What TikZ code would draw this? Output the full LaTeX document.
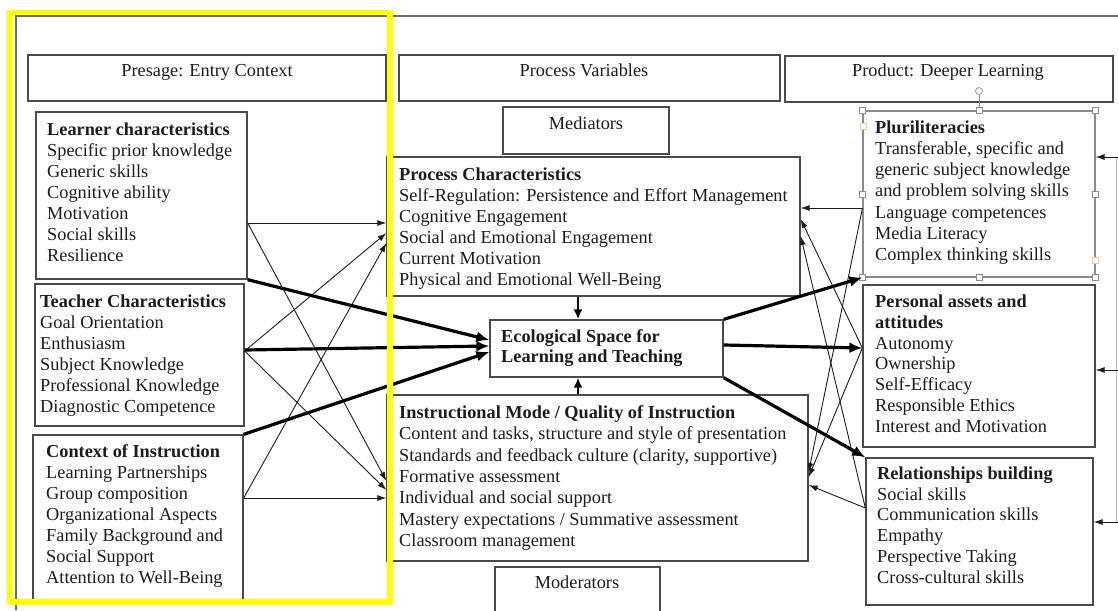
\documentclass[tikz,border=0pt]{standalone}
\usepackage{fontspec}
\setmainfont{Liberation Serif}
\usetikzlibrary{arrows.meta,fit}
\definecolor{boxgray}{HTML}{4A4A4A}
\definecolor{txtblack}{HTML}{1C1C1C}
\definecolor{framegray}{HTML}{6E6E6E}
\definecolor{selgray}{HTML}{8C8C8C}
\definecolor{hiyellow}{HTML}{FFFF00}
\definecolor{handleorange}{HTML}{F6C89A}
\newcommand\fs{\rule{0pt}{15pt}}
\begin{document}
\begin{tikzpicture}[x=1pt,y=-1pt,
  box/.style={draw=boxgray, line width=1.3pt, inner sep=0pt},
  selbox/.style={draw=selgray, line width=1.1pt, inner sep=0pt},
  txt/.style={anchor=north west, inner sep=0pt, align=left, text=txtblack,
    font=\fontsize{18.3}{21}\selectfont},
  hdr/.style={anchor=base, inner sep=0pt, text=txtblack,
    font=\fontsize{18.3}{21}\selectfont},
  thin/.style={draw=txtblack, line width=0.9pt, -{Latex[length=9pt,width=6pt]}},
  thick/.style={draw=black, line width=3.2pt, -{Latex[length=13pt,width=11pt]}},
  mid/.style={draw=black, line width=2.4pt, -{Latex[length=10pt,width=9pt]}},
  handle/.style={draw=selgray, fill=white, line width=0.7pt, minimum size=6pt, inner sep=0pt},
]
\useasboundingbox (0,0) rectangle (1118,610);
\fill[white] (0,0) rectangle (1118,610);

% outer frame
\draw[framegray, line width=1.3pt] (16,610) -- (16,16) -- (1118,16);

% header boxes
\node[box, fit={(28,55) (386,101)}] (pres) {};
\node[box, fit={(399,55) (780,101)}] (pv) {};
\node[box, fit={(785,56) (1113,102)}] (prod) {};
\node[hdr] (prest) at (207,76) {Presage: Entry Context};
\node[hdr] (pvt) at (584,76) {Process Variables};
\node[hdr] (prodt) at (948,77) {Product: Deeper Learning};

% mediators / moderators
\node[box, fit={(503,107) (669,154)}] (med) {};
\node[hdr] (medt) at (586,129) {Mediators};
\node[box, fit={(495,567) (660,625)}] (mod) {};
\node[hdr] (modt) at (577,588) {Moderators};

% left column
\node[box, fit={(36,112) (247,279)}] (lc) {};
\node[txt] (lct) at (47,120) {\fs\textbf{Learner characteristics}\\Specific prior knowledge\\Generic skills\\Cognitive ability\\Motivation\\Social skills\\Resilience};
\node[box, fit={(35,284) (244,426)}] (tc) {};
\node[txt] (tct) at (40,292) {\fs\textbf{Teacher Characteristics}\\Goal Orientation\\Enthusiasm\\Subject Knowledge\\Professional Knowledge\\Diagnostic Competence};
\node[box, fit={(33,435) (243,603)}] (ci) {};
\node[txt] (cit) at (46,442) {\fs\textbf{Context of Instruction}\\Learning Partnerships\\Group composition\\Organizational Aspects\\Family Background and\\Social Support\\Attention to Well-Being};

% middle column
\node[box, fit={(387,157) (800,296)}] (pc) {};
\node[txt] (pct) at (399,165) {\fs\textbf{Process Characteristics}\\Self-Regulation: Persistence and Effort Management\\Cognitive Engagement\\Social and Emotional Engagement\\Current Motivation\\Physical and Emotional Well-Being};
\node[box, fit={(490,320) (723,377)}] (eco) {};
\node[txt, font=\fontsize{18.3}{20}\selectfont] (ecot) at (501,327) {\fs\textbf{Ecological Space for}\\\textbf{Learning and Teaching}};
\node[box, fit={(387,395) (808,561)}] (im) {};
\node[txt, font=\fontsize{18.3}{21.4}\selectfont] (imt) at (399,403) {\fs\textbf{Instructional Mode / Quality of Instruction}\\Content and tasks, structure and style of presentation\\Standards and feedback culture (clarity, supportive)\\Formative assessment\\Individual and social support\\Mastery expectations / Summative assessment\\Classroom management};

% right column
\node[selbox, fit={(863,111) (1095,277)}] (pl) {};
\node[txt, font=\fontsize{18.3}{21.2}\selectfont] (plt) at (875,118) {\fs\textbf{Pluriliteracies}\\Transferable, specific and\\generic subject knowledge\\and problem solving skills\\Language competences\\Media Literacy\\Complex thinking skills};
\node[box, fit={(863,285) (1095,447)}] (pa) {};
\node[txt, font=\fontsize{18.3}{20.9}\selectfont] (pat) at (875,292) {\fs\textbf{Personal assets and}\\\textbf{attitudes}\\Autonomy\\Ownership\\Self-Efficacy\\Responsible Ethics\\Interest and Motivation};
\node[box, fit={(866,458) (1093,605)}] (rb) {};
\node[txt, font=\fontsize{18.3}{20.8}\selectfont] (rbt) at (877,464) {\fs\textbf{Relationships building}\\Social skills\\Communication skills\\Empathy\\Perspective Taking\\Cross-cultural skills};

% selection handles on Pluriliteracies
\draw[selgray, line width=0.7pt] (pl.north) -- (979,94);
\node[draw=selgray, fill=white, circle, line width=0.7pt, minimum size=7pt, inner sep=0pt] (rot) at (979,91) {};
\foreach \p/\n in {north west/a, north/b, north east/c, west/d, east/e, south west/f, south/g, south east/h}
  \node[handle] (h\n) at (pl.\p) {};
\node[handle, draw=handleorange] (ho1) at (863,126) {};
\node[handle, draw=handleorange] (ho2) at (1095,260) {};

% left thin connectors
\draw[thin] (lc.east |- 0,223) -- (pc.west |- 0,223);
\draw[thin] (lc.east |- 0,223) -- (im.west |- 0,481);
\draw[thin] (tc.east |- 0,351) -- (pc.west |- 0,233);
\draw[thin] (tc.east |- 0,351) -- (im.west |- 0,490);
\draw[thin] (ci.east |- 0,498) -- (pc.west |- 0,243);
\draw[thin] (ci.east |- 0,498) -- (im.west |- 0,498);

% left thick connectors
\draw[thick] (lc.south east) -- (eco.west |- 0,340);
\draw[thick] (tc.east |- 0,350) -- (eco.west |- 0,346);
\draw[thick] (ci.north east) -- (eco.west |- 0,352);

% vertical connectors
\draw[mid] (pc.south -| 578,0) -- (eco.north -| 578,0);
\draw[mid] (im.north -| 578,0) -- (eco.south -| 578,0);

% right thick connectors
\draw[thick] (eco.north east) -- (pl.south west);
\draw[thick] (eco.east |- 0,345) -- (pa.west |- 0,348);
\draw[thick] (eco.south east) -- (rb.north west);

% right thin connectors
\draw[thin] (pl.west |- 0,208) -- (pc.east |- 0,208);
\draw[thin] (pl.west |- 0,208) -- (im.east |- 0,472);
\draw[thin] (pa.west |- 0,348) -- (pc.east |- 0,219);
\draw[thin] (pa.west |- 0,348) -- (im.east |- 0,477);
\draw[thin] (rb.west |- 0,508) -- (pc.east |- 0,236);
\draw[thin] (rb.west |- 0,508) -- (im.east |- 0,485);

% right-edge incoming arrows
\coordinate (r1) at (1118,157);
\coordinate (r2) at (1118,370);
\coordinate (r3) at (1118,522);
\draw[selgray!60, line width=0.8pt] (1116.5,157) -- (1116.5,522);
\draw[thin] (r1) -- (pl.east |- r1);
\draw[thin] (r2) -- (pa.east |- r2);
\draw[thin] (r3) -- (rb.east |- r3);

% yellow highlight
\draw[hiyellow, line width=5.5pt] (10,12.5) rectangle (390,602);
\end{tikzpicture}
\end{document}
